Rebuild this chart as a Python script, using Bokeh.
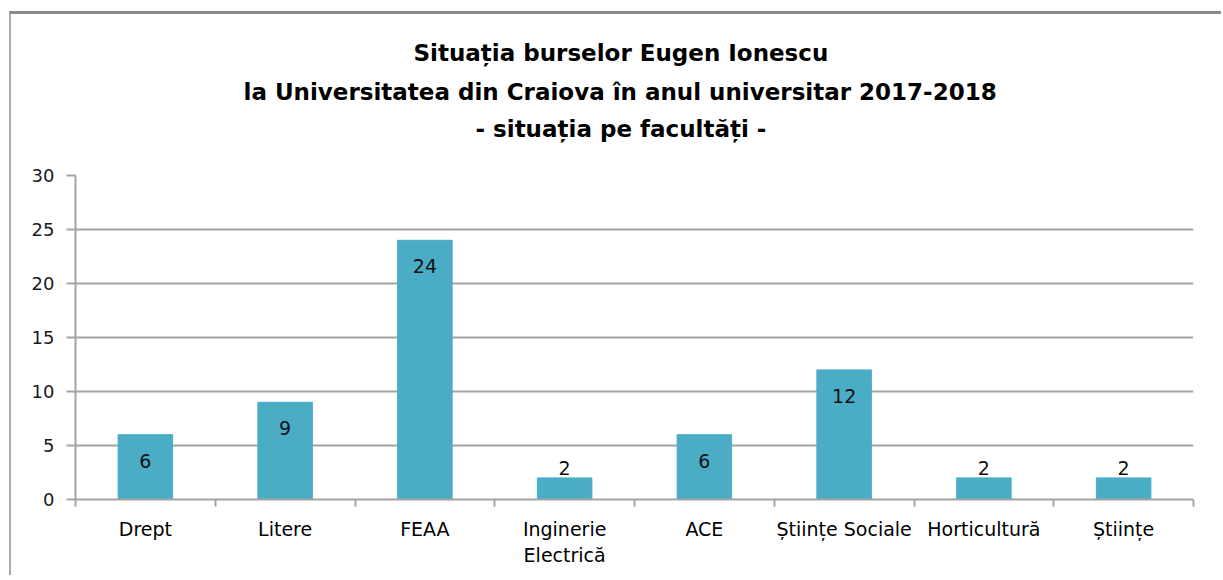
from bokeh.plotting import figure
from bokeh.models import Range1d, FixedTicker, ColumnDataSource, Title
from bokeh.core.properties import value
from bokeh.embed import file_html
from bokeh.resources import INLINE

categories = ["Drept", "Litere", "FEAA", "Inginerie\nElectrică", "ACE",
              "Științe Sociale", "Horticultură", "Științe"]
counts = [6, 9, 24, 2, 6, 12, 2, 2]
y_ticks = [0, 5, 10, 15, 20, 25, 30]
title_lines = ["Situația burselor Eugen Ionescu",
               "la Universitatea din Craiova în anul universitar 2017-2018",
               "- situația pe facultăți -"]

BAR = "#4BACC6"
GRID = "#a3a3a3"
FONT = "DejaVu Sans"

xs = [i + 0.5 for i in range(len(categories))]
source = ColumnDataSource(dict(
    x=xs, top=counts, label=[str(c) for c in counts],
    yoff=[26 if c > 4 else -10 for c in counts],
))

p = figure(width=1212, height=564, output_backend="svg", toolbar_location=None,
           x_range=Range1d(0, len(categories)), y_range=Range1d(0, 30),
           min_border_left=64, min_border_right=30, min_border_top=161,
           min_border_bottom=79)
p.styles = {"border-top": "3px solid #8a8a8a", "border-left": "2px solid #a8a8a8",
            "margin-top": "11px", "margin-left": "9px"}

# title lines: (standoff, left offset) per line
title_layout = [(11, 338), (10, 168), (9, 400)]

def style_title(t, so, off):
    t.align = "left"
    t.text_font = FONT
    t.text_font_size = "23px"
    t.text_font_style = "bold"
    t.text_color = "#000000"
    t.offset = off
    t.standoff = so

# spacer between the title block and the plot frame
spacer = Title(text=" ", text_font_size="2px", standoff=25)
p.add_layout(spacer, "above")

p.title.text = title_lines[0]
style_title(p.title, *title_layout[0])
for idx in (2, 1):
    t = Title(text=title_lines[idx])
    style_title(t, *title_layout[idx])
    p.add_layout(t, "above")

p.outline_line_color = None
p.background_fill_color = "white"

p.vbar(x="x", top="top", width=0.39, bottom=0, source=source,
       fill_color=BAR, line_color=BAR)
p.text(x="x", y="top", text="label", source=source, y_offset="yoff",
       text_align="center", text_baseline="middle",
       text_font=value(FONT), text_font_size="19px", text_color="#111111")

# y axis
p.yaxis.ticker = FixedTicker(ticks=y_ticks)
p.yaxis.minor_tick_line_color = None
p.yaxis.major_tick_in = 0
p.yaxis.major_tick_out = 9
p.yaxis.major_tick_line_color = GRID
p.yaxis.major_tick_line_width = 2
p.yaxis.axis_line_color = GRID
p.yaxis.axis_line_width = 2
p.yaxis.major_label_standoff = 12
p.yaxis.major_label_text_font = FONT
p.yaxis.major_label_text_font_size = "18px"
p.yaxis.major_label_text_color = "#1a1a1a"

# x axis
p.xaxis.ticker = FixedTicker(ticks=xs, minor_ticks=list(range(len(categories) + 1)))
p.xaxis.major_label_overrides = {x: c for x, c in zip(xs, categories)}
p.xaxis.major_tick_line_color = None
p.xaxis.major_tick_in = 0
p.xaxis.major_tick_out = 0
p.xaxis.minor_tick_in = 0
p.xaxis.minor_tick_out = 7
p.xaxis.minor_tick_line_color = GRID
p.xaxis.minor_tick_line_width = 2
p.xaxis.axis_line_color = GRID
p.xaxis.axis_line_width = 2
p.xaxis.major_label_standoff = 11
p.xaxis.major_label_text_font = FONT
p.xaxis.major_label_text_font_size = "19px"
p.xaxis.major_label_text_color = "#000000"

p.xgrid.visible = False
p.ygrid.ticker = FixedTicker(ticks=y_ticks)
p.ygrid.grid_line_color = GRID
p.ygrid.grid_line_width = 2

open("out.html", "w").write(file_html(p, INLINE))
